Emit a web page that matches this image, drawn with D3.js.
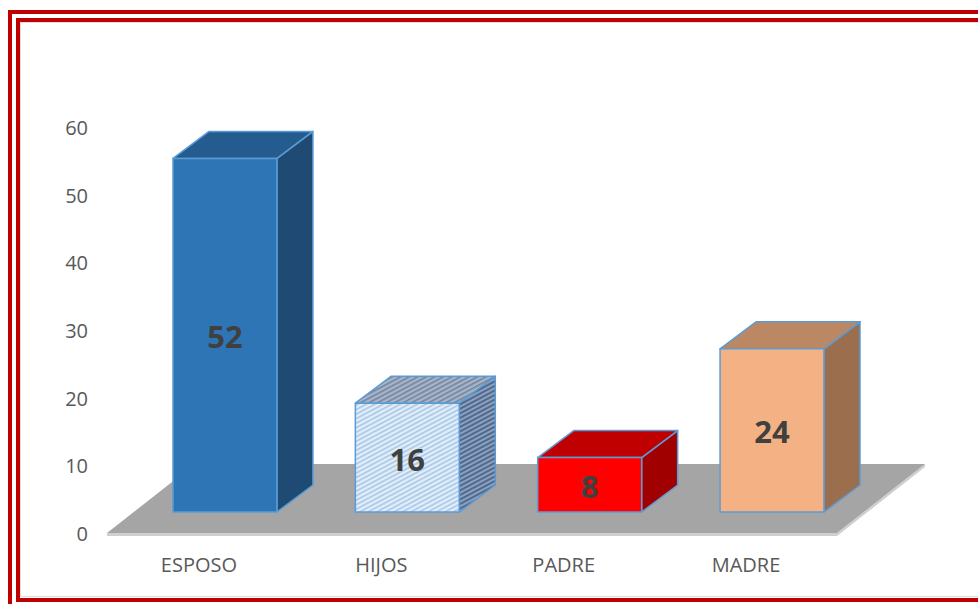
<!DOCTYPE html>
<html lang="es">
<head>
    <meta charset="UTF-8">
    <title>Parentesco</title>
    <style>
        html, body { margin: 0; padding: 0; background: #fff; }
        svg { display: block; }
        .tick-label { font-family: "Open Sans", sans-serif; font-size: 20px; fill: #595959; }
        .cat-label { font-family: "Open Sans", sans-serif; font-size: 20px; fill: #595959; }
        .val-label { font-family: "Open Sans", sans-serif; font-size: 31px; font-weight: bold; fill: #404040; }
    </style>
</head>
<body>
<svg></svg>
<script src="https://cdn.jsdelivr.net/npm/d3@7"></script>
<script>
    /* data */
    const categories = ["ESPOSO", "HIJOS", "PADRE", "MADRE"];
    const values = [52, 16, 8, 24];
    const yTicks = [0, 10, 20, 30, 40, 50, 60];

    /* layout */
    const width = 978;
    const height = 604;
    const depthX = 36;     // 3d offset of the bars
    const depthY = -27;
    const floorDX = 88;    // 3d offset of the floor
    const floorDY = -69;

    /* face colours: front, top, side */
    const faces = [
        ["#2e75b6", "#245c90", "#1f4a73"],
        ["url(#hatchFront)", "url(#hatchTop)", "url(#hatchSide)"],
        ["#ff0000", "#c00000", "#a00000"],
        ["#f4b183", "#bc8763", "#9b6e4d"]
    ];

    const svg = d3.select("svg")
        .attr("width", width)
        .attr("height", height);

    /* patterns for the HIJOS bar */
    const defs = svg.append("defs");
    const hatch = (id, bg, fg, w) => {
        const p = defs.append("pattern")
            .attr("id", id)
            .attr("patternUnits", "userSpaceOnUse")
            .attr("width", 6)
            .attr("height", 4)
            .attr("patternTransform", "rotate(-28)");
        p.append("rect").attr("width", 6).attr("height", 4).attr("fill", bg);
        p.append("rect").attr("y", 0).attr("width", 6).attr("height", w).attr("fill", fg);
        p.append("rect").attr("x", 4).attr("y", 2).attr("width", 2).attr("height", 2).attr("fill", bg);
    };
    hatch("hatchFront", "#e3eef9", "#a4c7e8", 1.6);
    hatch("hatchTop", "#a9b5c6", "#6f84a1", 1.6);
    hatch("hatchSide", "#8da0bc", "#4f6a91", 2);

    /* scales */
    const x = d3.scaleBand()
        .domain(categories)
        .range([173, 824])
        .paddingInner(0.43);

    const yBar = d3.scaleLinear().domain([0, 60]).range([512, 104]);
    const yAxis = d3.scaleLinear().domain([0, 60]).range([534, 128]);

    /* frame */
    svg.append("rect")
        .attr("x", 10).attr("y", 12)
        .attr("width", width + 20).attr("height", height)
        .attr("fill", "none").attr("stroke", "#c00000").attr("stroke-width", 4);
    svg.append("rect")
        .attr("x", 18).attr("y", 20)
        .attr("width", width).attr("height", 580)
        .attr("fill", "none").attr("stroke", "#c00000").attr("stroke-width", 4);
    svg.append("rect")
        .attr("x", 20.5).attr("y", 22.5)
        .attr("width", width).attr("height", 574)
        .attr("fill", "none").attr("stroke", "#dedede").attr("stroke-width", 1);

    /* floor */
    const fl = 107, fr = 837, fy = yAxis(0) - 1;
    svg.append("polygon")
        .attr("points", [[fl, fy], [fr, fy], [fr + floorDX, fy + floorDY],
            [fr + floorDX, fy + floorDY + 3], [fr, fy + 3], [fl, fy + 3]].join(" "))
        .attr("fill", "#cfcfcf");
    svg.append("polygon")
        .attr("points", [[fl, fy], [fr, fy], [fr + floorDX, fy + floorDY], [fl + floorDX, fy + floorDY]].join(" "))
        .attr("fill", "#a5a5a5");

    /* y tick labels */
    svg.selectAll(".tick-label").data(yTicks).enter().append("text")
        .attr("class", "tick-label")
        .attr("x", 88)
        .attr("y", d => yAxis(d))
        .attr("dy", "0.35em")
        .attr("text-anchor", "end")
        .text(d => d);

    /* bars */
    const bw = x.bandwidth();
    svg.selectAll(".bar").data(categories).enter().append("g")
        .attr("class", "bar")
        .each(function (c, i) {
            const g = d3.select(this);
            const x0 = x(c), x1 = x0 + bw;
            const yt = yBar(values[i]), yb = yBar(0);
            const stroke = { "stroke": "#5b9bd5", "stroke-width": 1.5, "stroke-linejoin": "round" };
            const face = (pts, fill) => {
                const p = g.append("polygon").attr("points", pts.join(" ")).attr("fill", fill);
                Object.entries(stroke).forEach(([k, v]) => p.attr(k, v));
            };
            // side
            face([[x1, yt], [x1 + depthX, yt + depthY], [x1 + depthX, yb + depthY], [x1, yb]], faces[i][2]);
            // top
            face([[x0, yt], [x0 + depthX, yt + depthY], [x1 + depthX, yt + depthY], [x1, yt]], faces[i][1]);
            // front
            face([[x0, yt], [x1, yt], [x1, yb], [x0, yb]], faces[i][0]);

            g.append("text")
                .attr("class", "val-label")
                .attr("x", x0 + bw / 2)
                .attr("y", (yt + yb) / 2)
                .attr("dy", "0.42em")
                .attr("text-anchor", "middle")
                .text(values[i]);
        });

    /* category labels */
    svg.selectAll(".cat-label").data(categories).enter().append("text")
        .attr("class", "cat-label")
        .attr("x", d => x(d) + bw / 2 - 26)
        .attr("y", 565)
        .attr("dy", "0.35em")
        .attr("text-anchor", "middle")
        .text(d => d);
</script>
</body>
</html>
